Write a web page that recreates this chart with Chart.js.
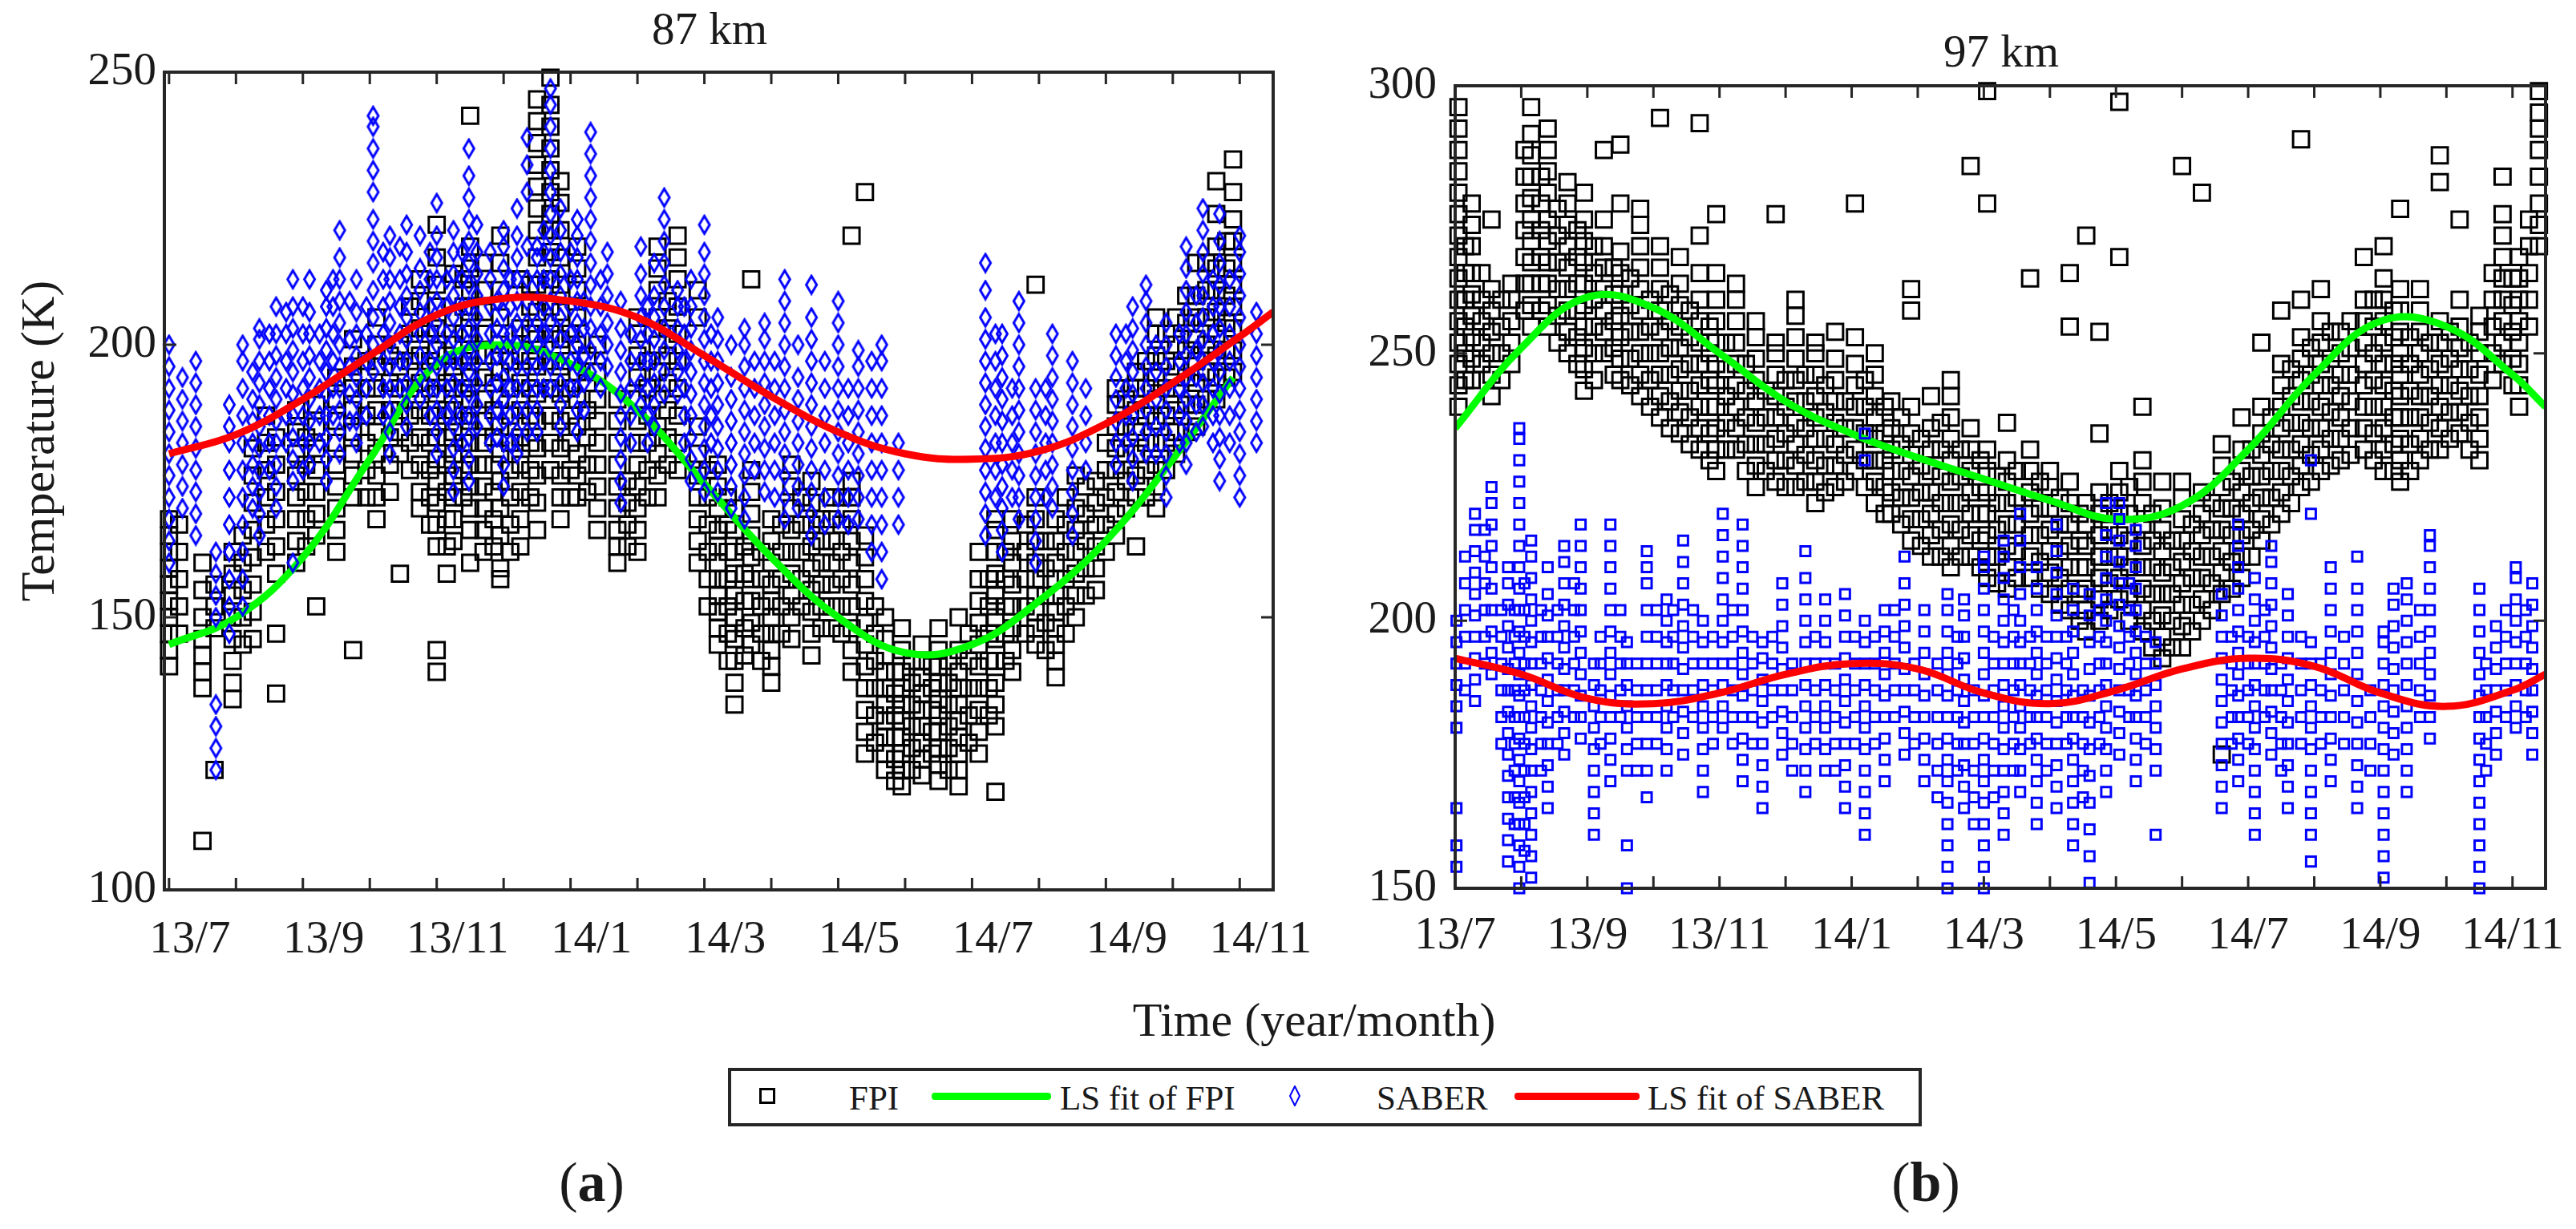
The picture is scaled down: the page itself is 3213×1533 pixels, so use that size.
<!DOCTYPE html>
<html lang="en">
<head>
<meta charset="UTF-8">
<title>FPI and SABER temperatures at 87 km and 97 km</title>
<script src="https://cdn.jsdelivr.net/npm/chart.js"></script>
<style>
  body {
    margin: 0;
    width: 3213px;
    height: 1533px;
    position: relative;
    overflow: hidden;
    background: #fff;
    font-family: 'Liberation Serif', 'Times New Roman', serif;
    color: #1a1a1a;
  }
  canvas { position: absolute; }
  .txt {
    position: absolute;
    white-space: nowrap;
    line-height: 1;
    transform: translate(-50%, -50%);
  }
  .title { font-size: 57px; }
  .axis-title { font-size: 60px; }
  .panel { font-size: 70px; }
  .legend-box {
    position: absolute;
    left: 908px; top: 1332px;
    width: 1489px; height: 73px;
    box-sizing: border-box;
    border: 4px solid #262626;
  }
  .leg-text {
    position: absolute;
    font-size: 43px;
    line-height: 1;
    white-space: nowrap;
    transform: translateY(-50%);
  }
  .leg-line { position: absolute; height: 9px; border-radius: 4px; }
</style>
</head>
<body>

<div class="txt title" style="left:885px; top:35px;">87 km</div>
<div class="txt title" style="left:2496px; top:63px;">97 km</div>
<div class="txt axis-title" style="left:47px; top:550px; transform:translate(-50%,-50%) rotate(-90deg);">Temperature (K)</div>
<div class="txt axis-title" style="left:1639px; top:1272px;">Time (year/month)</div>

<canvas id="chart87" width="1580" height="1140" style="left:100px; top:60px;"></canvas>
<canvas id="chart97" width="1528" height="1140" style="left:1685px; top:60px;"></canvas>

<div class="legend-box"></div>
<div style="position:absolute; left:947px; top:1357px; width:20px; height:20px; box-sizing:border-box; border:3px solid #000;"></div>
<div class="leg-text" style="left:1059px; top:1369px;">FPI</div>
<div class="leg-line" style="left:1162px; top:1363px; width:149px; background:#00ff00;"></div>
<div class="leg-text" style="left:1322px; top:1369px;">LS fit of FPI</div>
<svg style="position:absolute; left:1608px; top:1354px;" width="14" height="26">
  <polygon points="7,1 13,13 7,25 1,13" fill="none" stroke="#0000ff" stroke-width="2"/>
</svg>
<div class="leg-text" style="left:1717px; top:1369px;">SABER</div>
<div class="leg-line" style="left:1889px; top:1363px; width:156px; background:#ff0000;"></div>
<div class="leg-text" style="left:2055px; top:1369px;">LS fit of SABER</div>

<div class="txt panel" style="left:738px; top:1475px;">(<b>a</b>)</div>
<div class="txt panel" style="left:2402px; top:1475px;">(<b>b</b>)</div>

<script>
// Month ticks (one per month), labelled every second month
const monthTicks = [0, 1, 2, 3, 4, 5, 6, 7, 8, 9, 10, 11, 12, 13, 14, 15, 16];
const monthLabels = ['13/7', '13/9', '13/11', '14/1', '14/3', '14/5', '14/7', '14/9', '14/11'];

// ---- 87 km: least-squares fits ----
const saberFitMonths87 = [0, 1, 2, 3, 4, 5, 6, 7, 8, 9, 10, 11, 12, 13, 14, 15, 16, 16.5];
const saberFit87 = [180, 183.5, 190, 198, 205.5, 208.5, 208, 205, 198, 190.5, 184, 180, 179, 180.5, 185.5, 193, 201.5, 206];
const fpiFitMonths87 = [0, 1, 2, 3, 4, 5, 6, 7, 8, 9, 10, 11, 12, 13, 14, 15, 15.9];
const fpiFit87 = [145, 150, 161, 179, 196.5, 200, 196.5, 188, 174.5, 161, 150, 143.5, 145, 153, 164, 179, 194];

// ---- 97 km: least-squares fits ----
const fitMonths97 = [0, 1, 2, 3, 4, 5, 6, 7, 8, 9, 10, 11, 12, 13, 14, 15, 16, 16.5];
const fpiFit97 = [236, 251, 260.5, 258.5, 250, 241, 235, 230.5, 226.5, 222.5, 219, 221.5, 232, 246, 256, 255, 246, 240];
const saberFit97 = [193, 190, 185.5, 184.5, 186.5, 190, 192, 191, 186.5, 184.5, 187, 191, 193, 191.5, 186.5, 184, 187, 190];

// ---- 87 km: observations, one column per night [month, temperatures] ----
const fpi87 = [
  [0.0, [141, 144, 147, 150, 153, 156, 159, 162, 165, 168]],
  [0.15, [147, 152, 157, 162, 167]],
  [0.5, [109, 137, 140, 143, 146, 150, 155, 160]],
  [0.68, [122, 148, 152, 156]],
  [0.95, [135, 138, 142, 146, 150, 154, 158, 162]],
  [1.1, [145, 150, 155, 160, 165]],
  [1.25, [146, 151, 156, 161, 166, 171, 176, 181]],
  [1.45, [162, 167, 172, 177, 182, 187]],
  [1.6, [136, 147, 158, 163, 168, 173, 178, 183]],
  [1.9, [160, 164, 168, 172, 176, 180, 184, 188]],
  [2.05, [163, 168, 173, 178, 183]],
  [2.2, [152, 165, 169, 173, 177, 181, 185, 189]],
  [2.5, [162, 166, 170, 174, 178, 182, 186, 190, 194]],
  [2.75, [144, 172, 176, 180, 184, 188, 192, 196, 201]],
  [2.95, [172, 177, 182, 187, 192, 197]],
  [3.1, [168, 172, 176, 180, 184, 188, 192, 196, 200, 205]],
  [3.3, [173, 178, 183, 188, 193, 198]],
  [3.45, [158, 180, 184, 188, 192, 196, 200]],
  [3.6, [177, 182, 187, 192, 197, 202, 207]],
  [3.75, [170, 173, 178, 183, 188, 193, 198, 203, 208, 212]],
  [3.9, [167, 172, 177, 182, 187, 192, 197, 202]],
  [4.0, [140, 144, 163, 167, 171, 175, 179, 183, 187, 191, 195, 199, 203, 207, 211, 216, 222]],
  [4.15, [158, 163, 168, 173, 178, 183, 188, 193, 198]],
  [4.25, [164, 168, 172, 176, 180, 184, 188, 192, 196, 200, 205, 213]],
  [4.4, [172, 177, 182, 187, 192, 197, 202, 207, 212]],
  [4.5, [160, 166, 170, 174, 178, 182, 186, 190, 194, 198, 202, 206, 210, 214, 218, 242]],
  [4.7, [162, 166, 170, 174, 178, 182, 186, 190, 194, 198, 202, 206, 210, 215]],
  [4.85, [163, 168, 173, 178, 183, 188, 193, 198]],
  [4.95, [157, 159, 165, 170, 175, 180, 185, 190, 195, 200, 205, 210, 215, 220]],
  [5.1, [162, 167, 172, 177, 182, 187, 192, 197]],
  [5.25, [163, 168, 173, 178, 183, 188, 193, 198, 203, 212]],
  [5.4, [172, 177, 182, 187, 192, 197, 202, 207, 211]],
  [5.5, [166, 171, 176, 181, 186, 191, 196, 201, 206, 211, 216, 221, 225, 229, 233, 237, 241, 245]],
  [5.7, [177, 182, 187, 192, 197, 202, 207, 212, 217, 221, 224, 228, 232, 236, 240, 244, 249]],
  [5.85, [168, 172, 176, 181, 186, 191, 196, 201, 206, 211, 216, 221, 226, 230]],
  [6.0, [172, 177, 182, 187, 192, 197, 202]],
  [6.1, [172, 176, 180, 185, 190, 195, 200, 205, 210, 214, 218]],
  [6.25, [173, 178, 183, 188, 193, 198]],
  [6.4, [166, 170, 174, 178, 182, 186, 190, 195, 200]],
  [6.7, [160, 163, 166, 170, 174, 178, 182, 186, 190]],
  [6.85, [163, 167, 171, 175]],
  [7.0, [162, 166, 170, 174, 178, 182, 186, 190, 194, 198, 202, 205]],
  [7.15, [172, 177, 182, 187, 192, 197]],
  [7.3, [172, 176, 180, 185, 190, 195, 200, 205, 210, 214, 218]],
  [7.45, [178, 183, 188, 193, 198, 203, 208]],
  [7.6, [177, 182, 187, 192, 197, 202, 207, 212, 216, 220]],
  [7.9, [160, 164, 168, 172, 176, 180, 185, 205, 210]],
  [8.05, [152, 157, 162, 167, 172, 177]],
  [8.2, [145, 148, 151, 154, 157, 160, 163, 166, 170, 174, 178]],
  [8.35, [142, 147, 152, 157, 162, 167, 172]],
  [8.45, [134, 138, 142, 146, 150, 154, 158, 162, 166, 170]],
  [8.6, [143, 148, 153, 158, 163]],
  [8.7, [145, 149, 153, 157, 161, 165, 169, 173, 177, 212]],
  [8.85, [142, 147, 152, 157, 162]],
  [9.0, [138, 141, 144, 147, 150, 153, 156, 160, 164, 168]],
  [9.15, [147, 152, 157, 162, 167]],
  [9.3, [146, 150, 154, 158, 162, 166, 170, 174, 178]],
  [9.45, [152, 157, 162, 167, 172]],
  [9.6, [143, 147, 151, 155, 159, 163, 167, 171, 175]],
  [9.75, [148, 152, 156, 160, 164, 168]],
  [9.9, [148, 152, 156, 160, 164, 168, 172]],
  [10.05, [147, 152, 157, 162, 167, 172]],
  [10.2, [140, 144, 148, 152, 156, 160, 164, 168, 172, 175, 220]],
  [10.4, [125, 129, 133, 137, 141, 145, 149, 153, 157, 161, 165, 228]],
  [10.55, [127, 132, 137, 142, 147, 152]],
  [10.7, [122, 125, 128, 131, 134, 137, 140, 143, 146, 150]],
  [10.85, [120, 124, 128, 132, 136, 140]],
  [10.95, [119, 122, 125, 128, 131, 134, 137, 140, 144, 148]],
  [11.1, [122, 126, 130, 134, 138, 142]],
  [11.25, [121, 124, 127, 130, 133, 136, 139, 142, 145]],
  [11.4, [125, 129, 133, 137, 141]],
  [11.5, [120, 123, 126, 129, 132, 135, 138, 141, 144, 148]],
  [11.65, [122, 126, 130, 134, 138, 142]],
  [11.8, [119, 122, 125, 128, 131, 134, 137, 140, 144, 150]],
  [11.95, [127, 132, 137, 142, 147]],
  [12.1, [125, 129, 133, 137, 141, 145, 149, 153, 157, 162]],
  [12.25, [132, 137, 142, 147, 152, 157]],
  [12.35, [118, 130, 134, 138, 142, 146, 150, 154, 158, 162, 166, 168]],
  [12.5, [142, 147, 152, 157, 162]],
  [12.6, [140, 144, 148, 152, 156, 160, 164, 168]],
  [12.8, [147, 152, 157, 162, 167]],
  [12.95, [145, 148, 151, 154, 157, 160, 164, 168, 172, 211]],
  [13.1, [144, 149, 154, 159, 164]],
  [13.25, [139, 142, 145, 148, 151, 154, 157, 160, 164, 168]],
  [13.4, [147, 152, 157, 162, 167, 172]],
  [13.55, [150, 154, 158, 162, 166, 170, 176]],
  [13.7, [154, 159, 164, 169, 174]],
  [13.85, [155, 159, 163, 167, 171, 175]],
  [14.0, [162, 167, 172, 177, 182]],
  [14.15, [165, 169, 173, 177, 181, 185, 189, 192]],
  [14.3, [170, 175, 180, 185, 190]],
  [14.45, [163, 172, 176, 180, 184, 188, 192, 195]],
  [14.6, [172, 177, 182, 187, 192, 197]],
  [14.75, [170, 174, 178, 182, 186, 190, 194, 198, 202, 205]],
  [14.9, [177, 182, 187, 192, 197, 202]],
  [15.05, [180, 184, 188, 192, 196, 200, 205]],
  [15.2, [184, 189, 194, 199, 204, 209]],
  [15.35, [185, 189, 193, 197, 201, 205, 209, 215]],
  [15.5, [190, 195, 200, 205, 210, 215]],
  [15.65, [190, 194, 198, 202, 206, 210, 214, 218, 224, 230]],
  [15.8, [194, 199, 204, 209, 214, 219]],
  [15.9, [195, 199, 203, 207, 211, 215, 219, 223, 228, 234]]
];

const saber87 = [
  [0.0, [160, 164, 168, 172, 176, 180, 184, 188, 192, 196, 200]],
  [0.2, [170, 174, 178, 182, 186, 190, 194]],
  [0.4, [165, 169, 173, 177, 181, 185, 189, 193, 197]],
  [0.7, [122, 126, 130, 134, 150, 154, 158, 162]],
  [0.9, [147, 152, 157, 162, 167, 172, 177, 182, 185, 189]],
  [1.1, [152, 157, 162, 167, 172, 177, 182, 187, 192, 197, 200]],
  [1.25, [170, 174, 178, 182, 186, 190, 195]],
  [1.35, [165, 169, 173, 177, 181, 185, 189, 193, 197, 201, 203]],
  [1.5, [177, 182, 187, 192, 197, 202]],
  [1.6, [170, 174, 178, 182, 186, 190, 194, 198, 202, 207]],
  [1.75, [182, 187, 192, 197, 202, 206]],
  [1.85, [160, 175, 179, 183, 187, 191, 195, 199, 203, 207, 212]],
  [2.0, [177, 182, 187, 192, 197, 202, 207]],
  [2.1, [178, 182, 186, 190, 194, 198, 202, 206, 212]],
  [2.25, [182, 187, 192, 197, 202]],
  [2.35, [175, 179, 183, 187, 191, 195, 199, 203, 207, 210]],
  [2.45, [187, 192, 197, 202, 207, 212]],
  [2.55, [180, 184, 188, 192, 196, 200, 204, 208, 212, 216, 221]],
  [2.7, [186, 191, 196, 201, 208]],
  [2.8, [182, 186, 190, 194, 198, 202, 206, 212]],
  [2.95, [187, 192, 197, 202, 207]],
  [3.05, [195, 200, 205, 210, 215, 219, 223, 228, 232, 236, 240, 242]],
  [3.2, [187, 192, 197, 202, 207, 212, 217]],
  [3.3, [180, 184, 188, 192, 196, 200, 204, 208, 212, 216, 220]],
  [3.45, [192, 197, 202, 207, 212, 218]],
  [3.55, [185, 189, 193, 197, 201, 205, 209, 213, 217, 222]],
  [3.75, [190, 194, 198, 202, 206, 210, 214, 220]],
  [3.9, [187, 192, 197, 202, 207, 212, 217]],
  [4.0, [180, 184, 188, 192, 196, 200, 204, 208, 212, 216, 220, 226]],
  [4.15, [187, 192, 197, 202, 207, 212]],
  [4.25, [173, 177, 181, 185, 189, 193, 197, 201, 205, 209, 213, 217, 221]],
  [4.38, [182, 187, 192, 197, 202, 207, 212, 217]],
  [4.48, [175, 179, 183, 187, 191, 195, 199, 203, 207, 211, 215, 219, 223, 227, 231, 236]],
  [4.6, [185, 189, 193, 197, 201, 205, 209, 213, 217, 222]],
  [4.8, [182, 187, 192, 197, 202, 207, 212, 217]],
  [4.9, [183, 188, 193, 198, 203, 208]],
  [5.0, [174, 178, 182, 186, 190, 194, 198, 202, 206, 210, 214, 218, 221]],
  [5.1, [182, 187, 192, 197, 202, 207, 212]],
  [5.2, [180, 184, 188, 192, 196, 200, 204, 208, 212, 216, 220, 225]],
  [5.35, [184, 188, 192, 196, 200, 204, 208, 212, 218, 228, 233, 238]],
  [5.5, [184, 188, 192, 196, 200, 204, 208, 212, 216, 218]],
  [5.6, [192, 197, 202, 207, 212, 217, 221]],
  [5.7, [192, 196, 200, 204, 208, 212, 216, 220, 224, 228, 232, 236, 240, 244, 247]],
  [5.85, [185, 189, 193, 197, 201, 205, 209, 213, 217, 221, 225]],
  [6.0, [192, 197, 202, 207, 212, 217]],
  [6.1, [184, 188, 192, 196, 200, 204, 208, 212, 216, 220, 223]],
  [6.2, [188, 193, 198, 203, 208]],
  [6.3, [195, 199, 203, 207, 211, 215, 219, 223, 227, 231, 235, 239]],
  [6.45, [192, 197, 202, 207, 212]],
  [6.55, [196, 200, 204, 209, 213, 217]],
  [6.75, [171, 175, 179, 183, 187, 191, 195, 199, 203, 208]],
  [6.9, [182, 187, 192, 197, 202]],
  [7.05, [189, 193, 197, 201, 205, 209, 213, 218]],
  [7.15, [182, 187, 192, 197, 202, 207]],
  [7.25, [185, 189, 193, 197, 201, 205, 209, 215]],
  [7.4, [191, 195, 199, 203, 207, 211, 215, 219, 223, 227]],
  [7.6, [191, 195, 199, 203, 207, 210]],
  [7.7, [182, 187, 192, 197, 202, 207]],
  [7.8, [175, 179, 183, 187, 191, 195, 199, 203, 207, 212]],
  [8.0, [173, 177, 181, 185, 189, 193, 197, 201, 205, 209, 213, 217, 222]],
  [8.1, [182, 187, 192, 197, 202]],
  [8.2, [173, 177, 181, 185, 189, 193, 197, 201, 205]],
  [8.4, [170, 174, 178, 182, 186, 190, 194, 200]],
  [8.6, [168, 172, 176, 180, 184, 188, 192, 196, 200, 203]],
  [8.75, [177, 182, 187, 192, 197]],
  [8.9, [173, 177, 181, 185, 189, 193, 197, 201, 204]],
  [9.05, [172, 177, 182, 187, 192, 197]],
  [9.2, [168, 172, 176, 180, 184, 188, 192, 196, 200, 204, 208, 212]],
  [9.4, [170, 174, 178, 182, 186, 190, 194, 200]],
  [9.6, [165, 169, 173, 177, 181, 185, 189, 193, 197, 201, 205, 211]],
  [9.8, [167, 172, 177, 182, 187, 192, 197]],
  [10.0, [168, 172, 176, 180, 184, 188, 192, 196, 200, 204, 208]],
  [10.15, [167, 172, 177, 182, 187, 192]],
  [10.3, [168, 172, 176, 180, 184, 188, 192, 196, 199]],
  [10.5, [162, 167, 172, 177, 182, 187, 192, 197]],
  [10.65, [157, 162, 167, 172, 177, 182, 187, 192, 197, 200]],
  [10.9, [167, 172, 177, 182]],
  [12.2, [165, 169, 173, 177, 181, 185, 189, 193, 197, 201, 205, 210, 215]],
  [12.35, [172, 177, 182, 187, 192, 197, 202]],
  [12.45, [162, 166, 170, 174, 178, 182, 186, 190, 194, 198, 202]],
  [12.6, [172, 177, 182, 187, 192]],
  [12.7, [168, 172, 176, 180, 184, 188, 192, 196, 200, 204, 208]],
  [12.95, [160, 164, 168, 172, 176, 180, 184, 188, 192]],
  [13.1, [172, 177, 182, 187, 192]],
  [13.2, [170, 174, 178, 182, 186, 190, 194, 198, 202]],
  [13.5, [165, 169, 173, 177, 181, 185, 189, 193, 197]],
  [13.7, [177, 182, 187, 192]],
  [14.15, [178, 182, 186, 190, 194, 198, 202]],
  [14.3, [182, 187, 192, 197, 202]],
  [14.4, [175, 179, 183, 187, 191, 195, 199, 203, 207]],
  [14.6, [180, 184, 188, 192, 196, 200, 204, 208, 211]],
  [14.75, [180, 185, 190, 195, 200]],
  [14.9, [172, 176, 180, 184, 188, 192, 196, 200, 204]],
  [15.1, [182, 187, 192, 197, 202]],
  [15.2, [178, 182, 186, 190, 194, 198, 202, 206, 210, 214, 218]],
  [15.35, [184, 189, 194, 199, 204, 209]],
  [15.45, [185, 189, 193, 197, 201, 205, 209, 213, 217, 221, 225]],
  [15.6, [182, 187, 192, 197, 202, 207, 212]],
  [15.7, [175, 179, 183, 187, 191, 195, 199, 203, 207, 211, 215, 219, 224]],
  [15.85, [182, 187, 192, 197, 202, 207, 212]],
  [16.0, [172, 176, 180, 184, 188, 192, 196, 200, 205, 209, 213, 217, 220]],
  [16.25, [182, 186, 190, 194, 198, 202, 206]]
];

// ---- 97 km: observations ----
const fpi97 = [
  [0.05, [240, 244, 248, 252, 256, 260, 264, 268, 272, 276, 280, 284, 288, 292, 296]],
  [0.15, [245, 250, 255, 260, 265, 270]],
  [0.25, [245, 249, 253, 257, 261, 265, 270, 274, 278]],
  [0.4, [248, 252, 256, 260, 265]],
  [0.55, [242, 246, 250, 254, 258, 262, 275]],
  [0.7, [245, 250, 255, 260]],
  [0.85, [248, 252, 256, 260, 263]],
  [1.05, [258, 263, 268, 273, 278, 283, 288]],
  [1.15, [255, 259, 263, 267, 271, 275, 279, 283, 287, 291, 296]],
  [1.3, [258, 263, 268, 273, 278, 283]],
  [1.4, [255, 259, 263, 267, 271, 275, 280, 284, 288, 292]],
  [1.55, [252, 257, 262, 267, 272, 277]],
  [1.7, [250, 254, 258, 262, 266, 270, 274, 278, 282]],
  [1.85, [248, 253, 258, 263, 268, 273]],
  [1.95, [243, 247, 251, 255, 259, 263, 267, 271, 275, 280]],
  [2.1, [245, 250, 255, 260, 265, 270]],
  [2.25, [250, 254, 258, 262, 266, 270, 275, 288]],
  [2.4, [246, 251, 256, 261, 266]],
  [2.5, [245, 249, 253, 257, 261, 265, 269, 278, 289]],
  [2.65, [244, 249, 254, 259, 264]],
  [2.8, [242, 246, 250, 254, 258, 262, 266, 270, 274, 277]],
  [2.95, [240, 245, 250, 255, 260]],
  [3.1, [238, 242, 246, 250, 254, 258, 262, 266, 270, 294]],
  [3.25, [236, 241, 246, 251, 256, 261]],
  [3.4, [235, 239, 243, 247, 251, 255, 259, 263, 268]],
  [3.55, [233, 238, 243, 248, 253, 258]],
  [3.7, [232, 236, 240, 244, 248, 252, 256, 260, 265, 272, 293]],
  [3.85, [230, 235, 240, 245, 250, 255]],
  [3.95, [228, 232, 236, 240, 244, 248, 252, 256, 260, 265, 276]],
  [4.1, [232, 237, 242, 247, 252]],
  [4.25, [232, 236, 240, 244, 248, 252, 256, 260, 263]],
  [4.4, [228, 233, 238, 243, 248]],
  [4.55, [225, 229, 233, 237, 241, 245, 249, 253, 256]],
  [4.7, [228, 233, 238, 243]],
  [4.85, [226, 230, 234, 238, 242, 246, 250, 252, 276]],
  [5.0, [225, 230, 235, 240, 245]],
  [5.15, [225, 229, 233, 237, 241, 245, 249, 253, 257, 260]],
  [5.3, [226, 231, 236, 241, 246]],
  [5.45, [222, 226, 230, 234, 238, 242, 246, 250, 252]],
  [5.6, [224, 229, 234, 239, 244]],
  [5.75, [225, 229, 233, 237, 241, 245, 249, 254]],
  [5.9, [226, 231, 236, 241]],
  [6.05, [228, 232, 236, 240, 244, 248, 253, 278]],
  [6.2, [225, 230, 235, 240, 245]],
  [6.35, [222, 226, 230, 234, 238, 242, 246, 250]],
  [6.5, [220, 225, 230, 235, 240]],
  [6.6, [220, 224, 228, 232, 236, 241]],
  [6.75, [218, 223, 228, 233, 238]],
  [6.9, [215, 219, 223, 227, 231, 235, 240, 258, 262]],
  [7.05, [214, 219, 224, 229, 234]],
  [7.2, [212, 216, 220, 224, 228, 232, 236, 242]],
  [7.35, [212, 217, 222, 227, 232, 237]],
  [7.5, [210, 214, 218, 222, 226, 230, 234, 238, 242, 245]],
  [7.65, [212, 217, 222, 227, 232]],
  [7.8, [212, 216, 220, 224, 228, 232, 236, 285]],
  [7.95, [210, 215, 220, 225, 230]],
  [8.05, [208, 212, 216, 220, 224, 228, 232, 278, 299]],
  [8.2, [207, 212, 217, 222, 227]],
  [8.35, [206, 210, 214, 218, 222, 226, 230, 237]],
  [8.5, [208, 213, 218, 223, 228]],
  [8.7, [208, 212, 216, 220, 224, 228, 232, 264]],
  [8.85, [206, 211, 216, 221, 226]],
  [9.0, [205, 209, 213, 217, 221, 225, 228]],
  [9.15, [203, 208, 213, 218, 223]],
  [9.3, [202, 206, 210, 214, 218, 222, 226, 255, 265]],
  [9.45, [200, 205, 210, 215, 220]],
  [9.55, [198, 202, 206, 210, 214, 218, 222, 272]],
  [9.75, [200, 204, 208, 212, 216, 220, 224, 235, 254]],
  [9.9, [202, 207, 212, 217, 222]],
  [10.05, [204, 208, 212, 216, 220, 224, 228, 268, 297]],
  [10.2, [200, 205, 210, 215, 220, 225]],
  [10.4, [198, 202, 206, 210, 214, 218, 222, 226, 230, 240]],
  [10.55, [195, 200, 205, 210, 215, 220]],
  [10.7, [193, 197, 201, 205, 209, 213, 217, 221, 226]],
  [10.85, [195, 200, 205, 210, 215]],
  [11.0, [195, 199, 203, 207, 211, 215, 219, 223, 226, 285]],
  [11.15, [198, 203, 208, 213, 218]],
  [11.3, [200, 204, 208, 212, 216, 220, 224, 280]],
  [11.45, [202, 207, 212, 217, 222]],
  [11.6, [175, 205, 209, 213, 217, 221, 225, 229, 233]],
  [11.75, [206, 211, 216, 221, 226]],
  [11.9, [208, 212, 216, 220, 224, 228, 232, 238]],
  [12.05, [212, 217, 222, 227, 232]],
  [12.2, [215, 219, 223, 227, 231, 235, 240, 252]],
  [12.35, [218, 223, 228, 233, 238]],
  [12.5, [220, 224, 228, 232, 236, 240, 244, 248, 258]],
  [12.65, [222, 227, 232, 237, 242, 247]],
  [12.8, [225, 229, 233, 237, 241, 245, 249, 253, 260, 290]],
  [12.95, [226, 231, 236, 241, 246, 251]],
  [13.1, [228, 232, 236, 240, 244, 248, 252, 256, 262]],
  [13.25, [229, 234, 239, 244, 249, 254]],
  [13.4, [230, 234, 238, 242, 246, 250, 254]],
  [13.55, [231, 236, 241, 246, 251, 256]],
  [13.75, [232, 236, 240, 244, 248, 252, 256, 260, 268]],
  [13.9, [230, 235, 240, 245, 250, 255, 260]],
  [14.05, [228, 232, 236, 240, 244, 248, 252, 256, 260, 264, 270]],
  [14.2, [228, 233, 238, 243, 248, 253, 258]],
  [14.3, [226, 230, 234, 238, 242, 246, 250, 254, 258, 262, 277]],
  [14.45, [228, 233, 238, 243, 248, 253]],
  [14.6, [230, 234, 238, 242, 246, 250, 254, 258, 262]],
  [14.75, [232, 237, 242, 247, 252]],
  [14.9, [232, 236, 240, 244, 248, 252, 256, 282, 287]],
  [15.05, [234, 239, 244, 249, 254]],
  [15.2, [235, 239, 243, 247, 251, 255, 260, 275]],
  [15.35, [232, 237, 242, 247, 252]],
  [15.5, [230, 234, 238, 242, 246, 250, 254, 257]],
  [15.7, [245, 250, 255, 260, 265]],
  [15.85, [248, 252, 256, 260, 264, 268, 272, 276, 283]],
  [16.0, [244, 249, 254, 259, 264]],
  [16.1, [240, 244, 248, 252, 256, 260, 264, 268]],
  [16.25, [255, 260, 265, 270, 275]],
  [16.4, [270, 274, 278, 283, 288, 292, 295, 299]]
];

const saber97 = [
  [0.02, [154, 158, 165, 180, 184, 188, 192, 196, 200]],
  [0.15, [187, 192, 197, 202, 207, 212]],
  [0.3, [185, 189, 193, 197, 201, 205, 209, 213, 217, 220]],
  [0.45, [192, 197, 202, 207, 212, 217]],
  [0.55, [190, 194, 198, 202, 206, 210, 214, 218, 222, 225]],
  [0.7, [177, 182, 187, 192, 197, 202]],
  [0.8, [155, 159, 163, 167, 171, 175, 179, 183, 187, 191, 195, 199, 203, 207, 210]],
  [0.9, [162, 167, 172, 177, 182, 187, 192, 197, 202]],
  [0.97, [150, 154, 158, 162, 166, 170, 174, 178, 182, 186, 190, 194, 198, 202, 206, 210, 214, 218, 222, 226, 230, 234, 236]],
  [1.05, [157, 162, 167, 172, 177, 182, 187, 192, 197, 202, 207]],
  [1.15, [152, 156, 160, 164, 168, 172, 176, 180, 184, 188, 192, 196, 200, 204, 208, 212, 215]],
  [1.3, [172, 177, 182, 187, 192, 197, 202]],
  [1.4, [165, 169, 173, 177, 181, 185, 189, 193, 197, 201, 205, 210]],
  [1.55, [177, 182, 187, 192, 197, 202]],
  [1.65, [175, 179, 183, 187, 191, 195, 199, 203, 207, 211, 214]],
  [1.8, [182, 187, 192, 197, 202, 207]],
  [1.9, [178, 182, 186, 190, 194, 198, 202, 206, 210, 214, 218]],
  [2.1, [160, 164, 168, 172, 176, 180, 184, 188, 192]],
  [2.2, [177, 182, 187, 192, 197]],
  [2.35, [170, 174, 178, 182, 186, 190, 194, 198, 202, 206, 210, 214, 218]],
  [2.5, [182, 187, 192, 197, 202]],
  [2.6, [150, 158, 172, 176, 180, 184, 188, 192, 196]],
  [2.75, [172, 177, 182, 187, 192]],
  [2.9, [167, 172, 177, 182, 187, 192, 197, 202, 207, 210, 213]],
  [3.05, [177, 182, 187, 192, 197, 202]],
  [3.2, [172, 176, 180, 184, 188, 192, 196, 200, 204]],
  [3.3, [182, 187, 192, 197, 202]],
  [3.45, [175, 179, 183, 187, 191, 195, 199, 203, 207, 211, 215]],
  [3.6, [182, 187, 192, 197, 202]],
  [3.75, [168, 172, 176, 180, 184, 188, 192, 196, 200]],
  [3.9, [177, 182, 187, 192, 197]],
  [4.05, [180, 184, 188, 192, 196, 200, 204, 208, 212, 216, 220]],
  [4.2, [177, 182, 187, 192, 197, 202]],
  [4.35, [170, 174, 178, 182, 186, 190, 194, 198, 202, 206, 210, 214, 218]],
  [4.5, [177, 182, 187, 192, 197]],
  [4.65, [165, 169, 173, 177, 181, 185, 189, 193, 196]],
  [4.8, [182, 187, 192, 197]],
  [4.95, [175, 179, 183, 187, 191, 195, 199, 203, 207]],
  [5.1, [172, 177, 182, 187, 192]],
  [5.3, [168, 172, 176, 180, 184, 188, 192, 196, 200, 204, 208, 213]],
  [5.45, [177, 182, 187, 192, 197]],
  [5.6, [172, 176, 180, 184, 188, 192, 196, 200, 204]],
  [5.75, [172, 177, 182, 187, 192]],
  [5.9, [165, 169, 173, 177, 181, 185, 189, 193, 197, 201, 205]],
  [6.05, [177, 182, 187, 192, 197]],
  [6.2, [160, 164, 168, 172, 176, 180, 184, 188, 192, 196, 200, 230, 235]],
  [6.35, [177, 182, 187, 192, 197]],
  [6.5, [170, 174, 178, 182, 186, 190, 194, 198, 202]],
  [6.65, [182, 187, 192, 197, 202]],
  [6.8, [175, 179, 183, 187, 191, 195, 199, 203, 207, 212]],
  [6.95, [177, 182, 187, 192]],
  [7.1, [170, 174, 178, 182, 186, 190, 194, 198, 202]],
  [7.3, [167, 172, 177, 182, 187, 192]],
  [7.45, [150, 154, 158, 162, 166, 170, 174, 178, 182, 186, 190, 194, 198, 202, 205]],
  [7.6, [172, 177, 182, 187, 192, 197]],
  [7.7, [165, 169, 173, 177, 181, 185, 189, 193, 197, 201, 204]],
  [7.85, [162, 167, 172, 177, 182, 187]],
  [8.0, [150, 154, 158, 162, 166, 170, 174, 178, 182, 186, 190, 194, 198, 202, 206, 210, 212]],
  [8.15, [167, 172, 177, 182, 187, 192, 197]],
  [8.3, [160, 164, 168, 172, 176, 180, 184, 188, 192, 196, 200, 204, 208, 212, 215]],
  [8.45, [172, 177, 182, 187, 192, 197, 202]],
  [8.55, [168, 172, 176, 180, 184, 188, 192, 196, 200, 205, 210, 215, 220]],
  [8.7, [177, 182, 187, 192, 197]],
  [8.8, [162, 166, 170, 174, 178, 182, 186, 190, 194, 198, 202, 206, 210]],
  [8.95, [172, 177, 182, 187, 192, 197]],
  [9.1, [165, 169, 173, 177, 181, 185, 189, 193, 197, 201, 205, 209, 213, 218]],
  [9.25, [177, 182, 187, 192, 197]],
  [9.35, [158, 162, 166, 170, 174, 178, 182, 186, 190, 194, 198, 202, 206]],
  [9.5, [167, 172, 177, 182, 187]],
  [9.6, [151, 156, 161, 166, 171, 176, 181, 186, 191, 196, 201, 205]],
  [9.75, [177, 182, 187, 192, 197, 202]],
  [9.85, [168, 172, 176, 180, 184, 188, 192, 196, 200, 204, 208, 212, 216, 222]],
  [10.05, [175, 179, 183, 187, 191, 195, 199, 203, 207, 211, 215, 219, 222]],
  [10.2, [182, 187, 192, 197, 202, 207]],
  [10.3, [170, 174, 178, 182, 186, 190, 194, 198, 202, 206, 210, 214, 217]],
  [10.45, [177, 182, 187, 192, 197]],
  [10.6, [160, 172, 176, 180, 184, 188, 192, 196]],
  [11.6, [165, 169, 173, 177, 181, 185, 189, 193, 197, 201, 205]],
  [11.75, [177, 182, 187, 192, 197]],
  [11.85, [170, 174, 178, 182, 186, 190, 194, 198, 202, 206, 210, 214, 218]],
  [12.0, [177, 182, 187, 192, 197]],
  [12.1, [160, 164, 168, 172, 176, 180, 184, 188, 192, 196, 200, 204, 208]],
  [12.25, [182, 187, 192, 197, 202]],
  [12.35, [175, 179, 183, 187, 191, 195, 199, 203, 207, 211, 214]],
  [12.5, [172, 177, 182, 187, 192]],
  [12.6, [165, 169, 173, 177, 181, 185, 189, 193, 197, 201, 205]],
  [12.8, [177, 182, 187, 192, 197]],
  [12.95, [155, 160, 164, 168, 172, 176, 180, 184, 188, 192, 196, 220, 230]],
  [13.1, [177, 182, 187, 192]],
  [13.25, [170, 174, 178, 182, 186, 190, 194, 198, 202, 206, 210]],
  [13.45, [177, 182, 187, 192, 197]],
  [13.65, [165, 169, 173, 177, 181, 185, 190, 194, 198, 202, 206, 212]],
  [13.85, [172, 177, 182, 187]],
  [14.05, [152, 156, 160, 164, 168, 172, 176, 180, 184, 188, 192, 196, 198]],
  [14.2, [175, 179, 183, 187, 191, 195, 199, 203, 206]],
  [14.4, [168, 172, 176, 180, 184, 188, 192, 196, 200, 204, 207]],
  [14.6, [182, 187, 192, 197, 202]],
  [14.75, [178, 182, 186, 190, 194, 198, 202, 206, 210, 214, 216]],
  [15.5, [150, 154, 158, 162, 166, 170, 174, 178, 182, 186, 190, 194, 198, 202, 206]],
  [15.6, [172, 177, 182, 187, 192]],
  [15.75, [175, 179, 183, 187, 191, 195, 199]],
  [15.9, [182, 187, 192, 197, 202]],
  [16.05, [180, 184, 188, 192, 196, 200, 204, 208, 210]],
  [16.2, [182, 187, 192, 197, 202]],
  [16.3, [175, 179, 183, 187, 191, 195, 199, 203, 207]]
];

// expand columns into points
const toPoints = cols => cols.flatMap(([m, temps]) => temps.map(t => ({ x: m, y: t })));
const toLine = (months, temps) => months.map((m, i) => ({ x: m, y: temps[i] }));

// tall open diamond, like MATLAB's 'd' marker
function diamondMarker() {
  const c = document.createElement('canvas');
  c.width = 18;
  c.height = 27;
  const g = c.getContext('2d');
  g.strokeStyle = '#0000ff';
  g.lineWidth = 3;
  g.beginPath();
  g.moveTo(9, 2.5);
  g.lineTo(15.5, 13.5);
  g.lineTo(9, 24.5);
  g.lineTo(2.5, 13.5);
  g.closePath();
  g.stroke();
  return c;
}

// box frame with inward tick marks on all four sides
const boxPlugin = {
  id: 'matlabBox',
  afterDatasetsDraw(chart) {
    const { ctx, chartArea: a, scales } = chart;
    const len = 15;
    ctx.save();
    ctx.strokeStyle = '#262626';
    ctx.lineWidth = 3;
    ctx.beginPath();
    scales.x.ticks.forEach(t => {
      const px = scales.x.getPixelForValue(t.value);
      ctx.moveTo(px, a.bottom); ctx.lineTo(px, a.bottom - len);
      ctx.moveTo(px, a.top); ctx.lineTo(px, a.top + len);
    });
    scales.y.ticks.forEach(t => {
      const py = scales.y.getPixelForValue(t.value);
      ctx.moveTo(a.left, py); ctx.lineTo(a.left + len, py);
      ctx.moveTo(a.right, py); ctx.lineTo(a.right - len, py);
    });
    ctx.stroke();
    ctx.lineWidth = 4;
    ctx.strokeRect(a.left, a.top, a.right - a.left, a.bottom - a.top);
    ctx.restore();
  }
};

Chart.defaults.font.family = "'Liberation Serif', 'Times New Roman', serif";
Chart.defaults.color = '#1a1a1a';

function makeChart(id, opts) {
  return new Chart(document.getElementById(id), {
    type: 'scatter',
    data: { datasets: opts.datasets },
    options: {
      responsive: false,
      animation: false,
      events: [],
      layout: { padding: { left: 0, right: opts.padRight, top: opts.padTop, bottom: 0 } },
      plugins: { legend: { display: false }, tooltip: { enabled: false } },
      scales: {
        x: {
          type: 'linear',
          min: opts.xMin,
          max: opts.xMax,
          grid: { display: false, drawTicks: false },
          border: { display: false },
          afterBuildTicks: s => { s.ticks = monthTicks.map(v => ({ value: v })); },
          afterFit: s => { s.height = opts.xAxisHeight; s.paddingLeft = 0; s.paddingRight = 0; },
          ticks: {
            autoSkip: false,
            maxRotation: 0,
            minRotation: 0,
            padding: opts.xPad,
            labelOffset: opts.labelOffset,
            font: { size: 57 },
            callback: v => (Math.round(v) % 2 === 0 ? monthLabels[Math.round(v) / 2] : '')
          }
        },
        y: {
          min: opts.yMin,
          max: opts.yMax,
          grid: { display: false, drawTicks: false },
          border: { display: false },
          afterFit: s => { s.width = opts.yAxisWidth; s.paddingTop = 0; s.paddingBottom = 0; },
          ticks: { stepSize: 50, padding: opts.yPad, font: { size: 57 } }
        }
      }
    },
    plugins: [boxPlugin]
  });
}

const fpiStyle = {
  showLine: false, pointStyle: 'rect', pointRadius: 14, pointBorderWidth: 3,
  borderColor: '#000', backgroundColor: 'rgba(0,0,0,0)', clip: false
};
const fitStyle = { showLine: true, pointRadius: 0, borderWidth: 9, tension: 0.4, fill: false };

makeChart('chart87', {
  xMin: -0.07, xMax: 16.5, yMin: 100, yMax: 250,
  padRight: 92, padTop: 30, xAxisHeight: 90, yAxisWidth: 105,
  xPad: 29, yPad: 10, labelOffset: 26,
  datasets: [
    { label: 'FPI', data: toPoints(fpi87), order: 3, ...fpiStyle },
    { label: 'LS fit of FPI', data: toLine(fpiFitMonths87, fpiFit87), order: 2, borderColor: '#00ff00', ...fitStyle },
    { label: 'SABER', data: toPoints(saber87), order: 1, showLine: false, pointStyle: diamondMarker(),
      pointRadius: 10, borderColor: '#0000ff', backgroundColor: 'rgba(0,0,0,0)', clip: false },
    { label: 'LS fit of SABER', data: toLine(saberFitMonths87, saberFit87), order: 0, borderColor: '#ff0000', ...fitStyle }
  ]
});

makeChart('chart97', {
  xMin: 0, xMax: 16.5, yMin: 150, yMax: 300,
  padRight: 38, padTop: 47, xAxisHeight: 92, yAxisWidth: 130,
  xPad: 26, yPad: 23, labelOffset: 0,
  datasets: [
    { label: 'FPI', data: toPoints(fpi97), order: 3, ...fpiStyle },
    { label: 'LS fit of FPI', data: toLine(fitMonths97, fpiFit97), order: 2, borderColor: '#00ff00', ...fitStyle },
    { label: 'SABER', data: toPoints(saber97), order: 1, showLine: false, pointStyle: 'rect',
      pointRadius: 8.5, pointBorderWidth: 3, borderColor: '#0000ff', backgroundColor: 'rgba(0,0,0,0)', clip: false },
    { label: 'LS fit of SABER', data: toLine(fitMonths97, saberFit97), order: 0, borderColor: '#ff0000', ...fitStyle }
  ]
});
</script>
</body>
</html>
